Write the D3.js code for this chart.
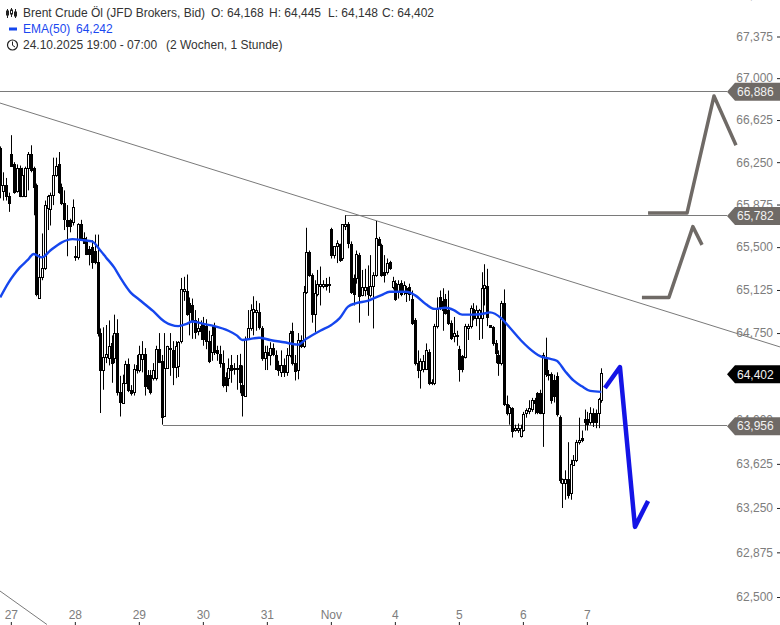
<!DOCTYPE html>
<html><head><meta charset="utf-8">
<style>
html,body{margin:0;padding:0;background:#fff;overflow:hidden}
svg{display:block;font-family:"Liberation Sans",Arial,sans-serif}
</style>
<script src="https://cdn.jsdelivr.net/npm/d3@7"></script>
</head><body>
<svg id="c" width="780" height="625"></svg>
<script>
const opens=[66.38,66.00,66.05,65.95,66.32,66.23,66.00,66.20,65.95,65.95,66.20,66.32,66.20,66.05,65.06,65.24,65.32,65.84,65.84,65.96,66.14,66.23,66.03,65.89,65.74,65.74,65.72,65.42,65.41,65.70,65.58,65.56,65.48,65.50,65.47,65.37,64.75,64.43,64.54,64.54,64.66,64.53,64.75,64.24,64.15,64.32,64.48,64.26,64.24,64.47,64.43,64.53,64.57,64.39,64.39,64.36,64.36,64.61,64.51,64.04,64.45,64.61,64.60,64.46,64.46,64.68,65.11,65.12,65.01,64.99,64.86,64.76,64.81,64.84,64.81,64.68,64.58,64.80,64.60,64.57,64.49,64.37,64.36,64.47,64.44,64.44,64.47,64.30,64.21,64.70,64.79,64.93,64.93,64.93,64.79,64.54,64.59,64.56,64.62,64.56,64.47,64.41,64.47,64.41,64.56,64.77,64.49,64.43,64.69,64.64,65.11,65.46,65.26,64.92,65.09,65.16,65.16,65.18,65.18,65.66,65.43,65.51,65.53,65.40,65.68,65.70,65.53,65.23,65.23,65.43,65.08,65.12,65.15,65.08,65.16,65.26,65.57,65.52,65.28,65.28,65.37,65.15,65.19,65.11,65.19,65.12,65.14,65.15,65.05,64.86,64.49,64.43,64.44,64.44,64.59,64.32,64.32,64.81,65.06,65.03,65.05,64.95,64.84,64.72,64.72,64.61,64.55,64.54,64.79,64.81,64.96,64.88,64.88,64.88,65.14,65.16,64.82,64.80,64.66,64.56,64.49,65.01,64.14,64.06,64.10,63.91,63.91,63.86,63.91,64.06,64.07,64.09,64.17,64.23,64.23,64.06,64.54,64.40,64.40,64.34,64.38,64.03,63.47,63.47,63.50,63.37,63.62,63.66,63.81,63.85,64.01,64.01,63.98,64.06,64.06,64.06,64.168];
const highs=[66.39,66.16,66.11,65.98,66.49,66.25,66.23,66.22,66.20,66.21,66.34,66.40,66.21,66.06,65.44,65.62,65.91,65.96,65.98,66.29,66.29,66.34,66.06,66.00,65.87,65.75,65.92,65.51,65.71,65.74,65.63,65.59,65.51,65.56,65.61,65.61,64.79,64.80,64.82,64.86,64.73,64.91,64.87,64.38,64.39,64.51,64.53,64.30,64.48,64.56,64.64,64.68,64.62,64.43,64.43,64.49,64.64,64.75,64.56,64.75,64.64,64.75,64.68,64.68,64.68,65.23,65.24,65.26,65.06,65.05,64.95,64.88,64.86,64.89,64.87,64.77,64.81,64.84,64.64,64.64,64.60,64.41,64.53,64.56,64.49,64.56,64.57,64.47,64.72,64.95,65.00,65.07,65.03,65.01,64.81,64.64,64.64,64.67,64.66,64.60,64.51,64.60,64.53,64.62,64.77,64.84,64.56,64.75,64.73,65.16,65.67,65.47,65.27,65.21,65.30,65.33,65.21,65.23,65.24,65.67,65.51,65.56,65.53,65.70,65.78,65.72,65.55,65.26,65.47,65.45,65.30,65.31,65.34,65.43,65.28,65.73,65.59,65.53,65.43,65.40,65.38,65.24,65.21,65.21,65.21,65.20,65.16,65.18,65.12,64.88,64.60,64.53,64.56,64.66,64.61,64.35,64.83,65.06,65.12,65.14,65.09,65.12,64.86,64.89,64.77,64.64,64.56,64.83,64.83,64.99,65.01,64.99,64.96,65.28,65.35,65.31,64.82,64.81,64.69,64.60,65.03,65.13,64.21,64.13,64.11,63.96,63.97,63.96,64.07,64.10,64.17,64.19,64.19,64.24,64.26,64.58,64.71,64.43,64.41,64.39,64.41,64.04,63.50,63.57,63.81,63.66,63.70,63.83,64.02,63.91,64.09,64.07,64.11,64.10,64.09,64.19,64.445];
const lows=[65.93,65.91,65.91,65.81,66.21,65.97,65.98,65.94,65.94,65.94,66.00,66.16,65.78,65.07,65.05,65.21,65.30,65.65,65.69,65.87,66.12,65.97,65.87,65.65,65.42,65.63,65.69,65.38,65.39,65.56,65.53,65.43,65.34,65.31,65.35,64.72,64.06,64.26,64.49,64.47,64.32,64.49,64.21,64.03,64.14,64.31,64.24,64.21,64.21,64.40,64.41,64.41,64.21,64.26,64.22,64.34,64.34,64.49,63.96,64.03,64.44,64.38,64.30,64.36,64.37,64.66,65.03,64.90,64.73,64.70,64.70,64.73,64.69,64.64,64.61,64.49,64.51,64.56,64.51,64.45,64.28,64.24,64.29,64.32,64.39,64.26,64.23,64.03,64.20,64.69,64.77,64.73,64.77,64.78,64.51,64.43,64.43,64.47,64.55,64.43,64.38,64.37,64.37,64.38,64.54,64.47,64.34,64.35,64.62,64.62,65.09,65.24,64.84,64.76,65.07,64.99,65.14,65.12,65.10,65.40,65.40,65.36,65.37,65.38,65.65,65.49,65.09,64.99,65.18,64.84,65.07,65.07,64.90,65.06,64.79,65.24,65.51,65.24,65.19,65.26,65.30,65.13,65.03,65.05,65.07,65.08,65.02,65.03,64.82,64.47,64.36,64.27,64.41,64.43,64.30,64.30,64.30,64.79,64.95,64.77,64.91,64.82,64.69,64.67,64.64,64.33,64.41,64.53,64.69,64.79,64.86,64.81,64.69,64.70,64.99,64.81,64.80,64.64,64.49,64.38,64.47,64.12,64.04,63.96,63.85,63.90,63.89,63.85,63.90,64.02,64.05,64.07,64.05,64.05,64.05,63.77,64.37,64.34,64.14,64.15,64.03,63.46,63.25,63.32,63.33,63.32,63.61,63.64,63.79,63.81,63.91,63.91,63.96,63.94,63.93,63.93,64.148];
const closes=[66.05,66.05,65.95,65.89,66.21,65.98,66.20,65.95,66.14,66.20,66.32,66.18,66.03,65.09,65.24,65.32,65.87,65.95,65.96,66.14,66.22,65.98,65.89,65.75,65.69,65.69,65.85,65.41,65.70,65.58,65.54,65.44,65.44,65.37,65.37,64.75,64.43,64.54,64.57,64.64,64.49,64.75,64.24,64.15,64.32,64.48,64.26,64.23,64.44,64.43,64.57,64.57,64.29,64.28,64.24,64.43,64.61,64.50,64.03,64.45,64.64,64.62,64.45,64.64,64.67,65.13,65.13,64.92,64.93,64.86,64.76,64.79,64.77,64.70,64.68,64.51,64.73,64.58,64.57,64.49,64.30,64.30,64.45,64.43,64.45,64.45,64.32,64.21,64.70,64.79,64.95,64.96,64.95,64.80,64.53,64.59,64.56,64.62,64.57,64.44,64.43,64.47,64.41,64.56,64.75,64.49,64.42,64.69,64.64,65.11,65.46,65.26,64.92,65.10,65.18,65.18,65.18,65.16,65.17,65.43,65.51,65.54,65.39,65.70,65.70,65.53,65.11,65.09,65.44,65.07,65.15,65.15,65.09,65.16,65.26,65.58,65.52,65.26,65.25,65.36,65.32,65.20,65.05,65.18,65.09,65.17,65.10,65.09,64.84,64.49,64.43,64.51,64.51,64.60,64.32,64.33,64.81,64.96,64.96,64.95,64.93,64.84,64.71,64.75,64.73,64.44,64.44,64.81,64.81,64.97,64.88,64.95,64.95,65.14,65.17,64.89,64.80,64.66,64.57,64.49,65.01,64.14,64.06,64.11,63.90,63.93,63.93,63.93,64.05,64.09,64.10,64.17,64.14,64.07,64.06,64.56,64.39,64.39,64.18,64.20,64.05,63.49,63.50,63.50,63.36,63.62,63.66,63.81,63.83,63.83,63.98,63.97,64.06,63.98,63.98,64.18,64.402];

const emaIdx=[0,3,5,7,10,12,15,18,22,26,30,33,36,38,41,43,47,50,55,59,64,67,69,73,77,82,85,87,90,93,97,102,107,110,115,119,122,125,128,132,135,137,140,146,149,153,156,160,163,166,170,174,176,180,183,187,190,194,197,200,203,206,209,212,216];
const emaVal=[65.06,65.19,65.26,65.32,65.39,65.44,65.41,65.47,65.54,65.57,65.56,65.55,65.47,65.41,65.32,65.24,65.10,65.04,64.94,64.85,64.81,64.83,64.85,64.83,64.81,64.77,64.73,64.69,64.70,64.71,64.69,64.67,64.65,64.70,64.77,64.82,64.88,64.98,65.01,65.03,65.06,65.08,65.11,65.11,65.08,65.00,64.96,64.97,64.95,64.91,64.91,64.92,64.93,64.88,64.80,64.69,64.62,64.55,64.53,64.51,64.42,64.34,64.29,64.25,64.242];

const xTickIdx=[4,27,50,73,96,119,142,165,188,211];
const xTickLabels=["27","28","29","30","31","Nov","4","5","6","7"];
const yTicks=[67.75,67.375,67,66.625,66.25,65.875,65.5,65.125,64.75,64.375,64,63.625,63.25,62.875,62.5];

const levelPrices=[66.886,65.782,63.956];
const levelStarts=[-1,124,58.5];
const lastPrice=64.402;

const trendIdx=[[-0.07,280.2],[-0.07,16.8]];
const trendVal=[[66.777,64.63],[62.55,62.27]];

const grayBigIdx=[232.8,246.8,256.5,264.4];
const grayBigVal=[65.80,65.80,66.84,66.40];
const graySmallIdx=[230.6,240.3,248.9,252.2];
const graySmallVal=[65.06,65.06,65.68,65.52];
const blueIdx=[217.3,222.7,228.1,232.8];
const blueVal=[64.275,64.456,63.09,63.31];

const W=780,H=625,LEVEL_X=727;
const GREY="#6f6a66",BLUE="#1546ee",AXIS="#7d7d7d";
const x=d3.scaleLinear().domain([0,216]).range([0.2,601.3]);
const y=d3.scaleLog().domain([62.5,67.375]).range([597,36.5]);
const svg=d3.select("#c");
const cx=i=>Math.round(x(i))+0.5;

// axes
const fmt=v=>d3.format(".3f")(v).replace(".",",");
const yAxis=d3.axisLeft(y).tickValues(yTicks).tickFormat(fmt).tickSize(3).tickPadding(4);
const yG=svg.append("g").attr("transform",`translate(${W},0)`).call(yAxis);
const xScaleBand=d3.scaleOrdinal().domain(xTickIdx).range(xTickLabels);
const xAxis=d3.axisTop(x).tickValues(xTickIdx).tickFormat(d=>xScaleBand(d)).tickSize(3).tickPadding(3).offset(0);
const xG=svg.append("g").attr("transform",`translate(0,${H})`).call(xAxis);
[yG,xG].forEach(g=>{
  g.select(".domain").remove();
  g.selectAll("text").attr("fill",AXIS).style("font-size","12px").style("font-family",'"Liberation Sans",Arial,sans-serif');
  g.selectAll("line").attr("stroke","#222");
});

// drawn lines
const lineG=svg.append("g").attr("fill","none").attr("stroke","#7a7a7a").attr("stroke-width",1);
trendIdx.forEach((t,k)=>lineG.append("line")
  .attr("x1",x(t[0])).attr("x2",x(t[1]))
  .attr("y1",y(trendVal[k][0])).attr("y2",y(trendVal[k][1])));
levelPrices.forEach((p,k)=>lineG.append("line")
  .attr("x1",levelStarts[k]<0?0:x(levelStarts[k])).attr("x2",LEVEL_X)
  .attr("y1",Math.round(y(p))+0.5).attr("y2",Math.round(y(p))+0.5));

// candles
const idx=d3.range(opens.length);
const cg=svg.append("g");
cg.selectAll("line.w").data(idx).join("line").attr("class","w")
  .attr("x1",cx).attr("x2",cx)
  .attr("y1",i=>y(highs[i])).attr("y2",i=>y(lows[i]))
  .attr("stroke","#000").attr("stroke-width",1);
cg.selectAll("rect").data(idx).join("rect")
  .attr("x",i=>cx(i)-1)
  .attr("width",2)
  .attr("y",i=>Math.round(y(Math.max(opens[i],closes[i])))+0.5)
  .attr("height",i=>Math.max(1,Math.round(Math.abs(y(opens[i])-y(closes[i])))))
  .attr("fill",i=>closes[i]>=opens[i]?"#fff":"#000")
  .attr("stroke","#000").attr("stroke-width",1);

// EMA
svg.append("path").datum(emaIdx)
  .attr("fill","none").attr("stroke",BLUE).attr("stroke-width",2.4).attr("stroke-linejoin","round")
  .attr("d",d3.line().x(i=>x(i)).y((i,k)=>y(emaVal[k])).curve(d3.curveMonotoneX));

// hand drawn projections
const poly=(xs,vs,col,w)=>svg.append("path").datum(xs)
  .attr("fill","none").attr("stroke",col).attr("stroke-width",w).attr("stroke-linejoin","round")
  .attr("d",d3.line().x(i=>x(i)).y((i,k)=>y(vs[k])));
poly(grayBigIdx,grayBigVal,GREY,3.5);
poly(graySmallIdx,graySmallVal,GREY,3.5);
poly(blueIdx,blueVal,"#1414e6",4.5);

// price tags
const tag=(p,col)=>{
  const c=y(p)+1;
  svg.append("path").attr("fill",col)
    .attr("d",`M${LEVEL_X} ${c}L735 ${c-9}L${W} ${c-9}L${W} ${c+9}L735 ${c+9}Z`);
  svg.append("text").attr("x",737).attr("y",c+4.3).attr("fill","#f2f2f2")
    .style("font-size","12px").text(fmt(p));
};
levelPrices.forEach(p=>tag(p,GREY));
tag(lastPrice,"#000");

// header
const hdr=svg.append("g").style("font-size","12px").attr("fill","#333");
const t=(s,xx,yy,col)=>hdr.append("text").attr("x",xx).attr("y",yy).attr("fill",col||"#333").text(s);
t("Brent Crude Öl (JFD Brokers, Bid)",23,17);
t("O: 64,168",211,17);
t("H: 64,445",269,17);
t("L: 64,148",328,17);
t("C: 64,402",382,17);
t("EMA(50)",23,33,"#1a48f0");
t("64,242",76,33,"#1a48f0");
t("24.10.2025 19:00 - 07:00",23,49);
t("(2 Wochen, 1 Stunde)",166,49);
// legend icons
const ic=svg.append("g").attr("stroke","#222").attr("fill","#222");
[[7.5,9,18,11,15,false],[11.5,8,17,10,14,true],[15.5,9,18,12,16,false]].forEach(a=>{
  ic.append("line").attr("x1",a[0]).attr("x2",a[0]).attr("y1",a[1]).attr("y2",a[2]);
  ic.append("rect").attr("x",a[0]-1).attr("width",2).attr("y",a[3]).attr("height",a[4]-a[3]).attr("fill",a[5]?"#fff":"#222");
});
svg.append("rect").attr("x",9).attr("y",27.5).attr("width",8).attr("height",3).attr("fill",BLUE);
svg.append("circle").attr("cx",12.5).attr("cy",45).attr("r",5).attr("fill","none").attr("stroke","#222").attr("stroke-width",1.2);
svg.append("path").attr("d","M12.5 41.5V45.3L15 47").attr("fill","none").attr("stroke","#222");
</script>
</body></html>
